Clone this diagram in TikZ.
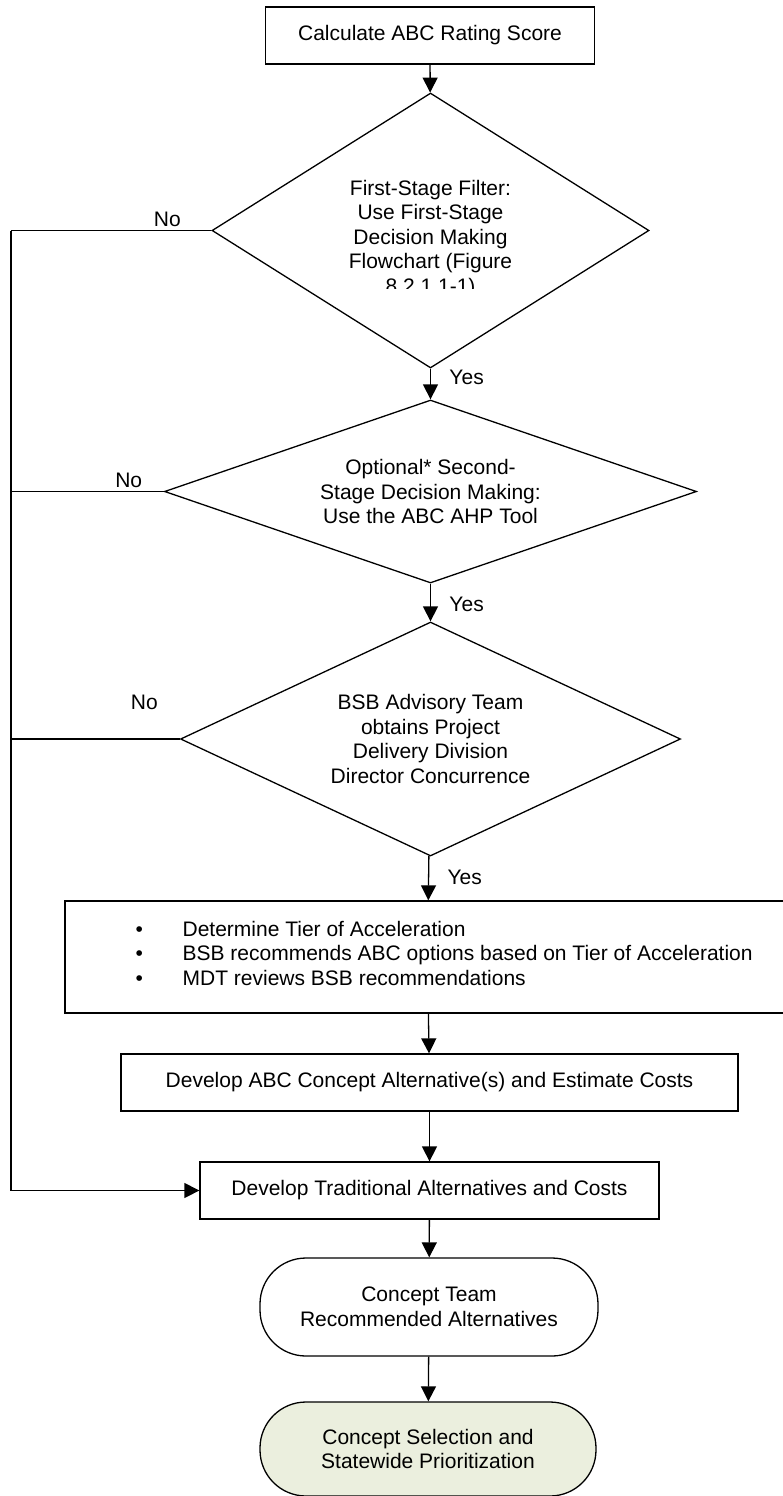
\documentclass[tikz,border=0pt]{standalone}
\usepackage{fontspec}
\setmainfont{Liberation Sans}
\usepackage{xcolor}
\usetikzlibrary{arrows.meta, shapes.geometric}
\definecolor{sagefill}{RGB}{235,239,222}

\begin{document}
\begin{tikzpicture}[x=1pt, y=-1pt, line width=1.3pt,
    font=\fontsize{21}{24.5}\selectfont,
    box/.style={draw, rectangle, inner sep=0pt},
    decision/.style={draw, diamond, inner sep=0pt, align=center},
    terminal/.style={draw, rectangle, rounded corners=46pt, inner sep=0pt, align=center},
    flow/.style={-{Triangle[length=15pt,width=15pt]}},
    yeslabel/.style={anchor=west, xshift=15pt},
    nolabel/.style={above}]
  \useasboundingbox (0,0) rectangle (782,1496);

  % Start
  \node[box, minimum width=329, minimum height=57] (score) at (430,35.5) {Calculate ABC Rating Score};

  % Decisions
  \node[decision, minimum width=437, minimum height=275, aspect=1.59] (filter) at (430.5,230.5) {};
  \begin{scope}
    \clip (300,165) rectangle (560,288);
    \node[align=center] (filtertext) at (430.5,239) {First-Stage Filter:\\Use First-Stage\\Decision Making\\Flowchart (Figure\\8.2.1.1-1)};
  \end{scope}
  \node[decision, minimum width=532, minimum height=183, aspect=2.9] (ahp) at (430.5,491.5) {Optional* Second-\\Stage Decision Making:\\Use the ABC AHP Tool};
  \node[decision, minimum width=500, minimum height=234, aspect=2.14] (concur) at (430.5,739) {BSB Advisory Team\\obtains Project\\Delivery Division\\Director Concurrence};

  % Steps
  \node[box, minimum width=725, minimum height=112] (tier) at (427.5,957) {};
  \node[anchor=west, align=left, inner sep=0pt] (tiertext) at (135,953) {%
    \makebox[47pt][l]{\textbullet}Determine Tier of Acceleration\\
    \makebox[47pt][l]{\textbullet}BSB recommends ABC options based on Tier of Acceleration\\
    \makebox[47pt][l]{\textbullet}MDT reviews BSB recommendations};
  \node[box, minimum width=617, minimum height=57] (abc) at (429.5,1082.5) {Develop ABC Concept Alternative(s) and Estimate Costs};
  \node[box, minimum width=459, minimum height=57] (trad) at (429.5,1190.5) {Develop Traditional Alternatives and Costs};
  \node[terminal, minimum width=338, minimum height=98] (team) at (429,1307) {Concept Team\\Recommended Alternatives};
  \node[terminal, fill=sagefill, minimum width=336, minimum height=94] (select) at (428,1449) {Concept Selection and\\Statewide Prioritization};

  % Left rail
  \coordinate (nofilter) at (11,230.5);
  \coordinate (noahp) at (11,491.5);
  \coordinate (noconcur) at (11,739);

  % Connectors
  \draw[flow] (score) -- (filter);
  \draw[flow] (filter) -- node[yeslabel, pos=0.3] {Yes} (ahp);
  \draw[flow] (ahp) -- node[yeslabel, pos=0.56] {Yes} (concur);
  \draw[flow] (concur) -- node[yeslabel, pos=0.49] {Yes} (tier);
  \draw[flow] (tier) -- (abc);
  \draw[flow] (abc) -- (trad);
  \draw[flow] (trad) -- (team);
  \draw[flow] (team) -- (select);

  \draw (filter.west) -- node[nolabel, pos=0.22] {No} (nofilter);
  \draw (ahp.west) -- node[nolabel, pos=0.23] {No} (noahp);
  \draw (concur.west) -- node[nolabel, pos=0.21, yshift=25pt] {No} (noconcur);
  \draw[flow] (nofilter) |- (trad);
\end{tikzpicture}
\end{document}
